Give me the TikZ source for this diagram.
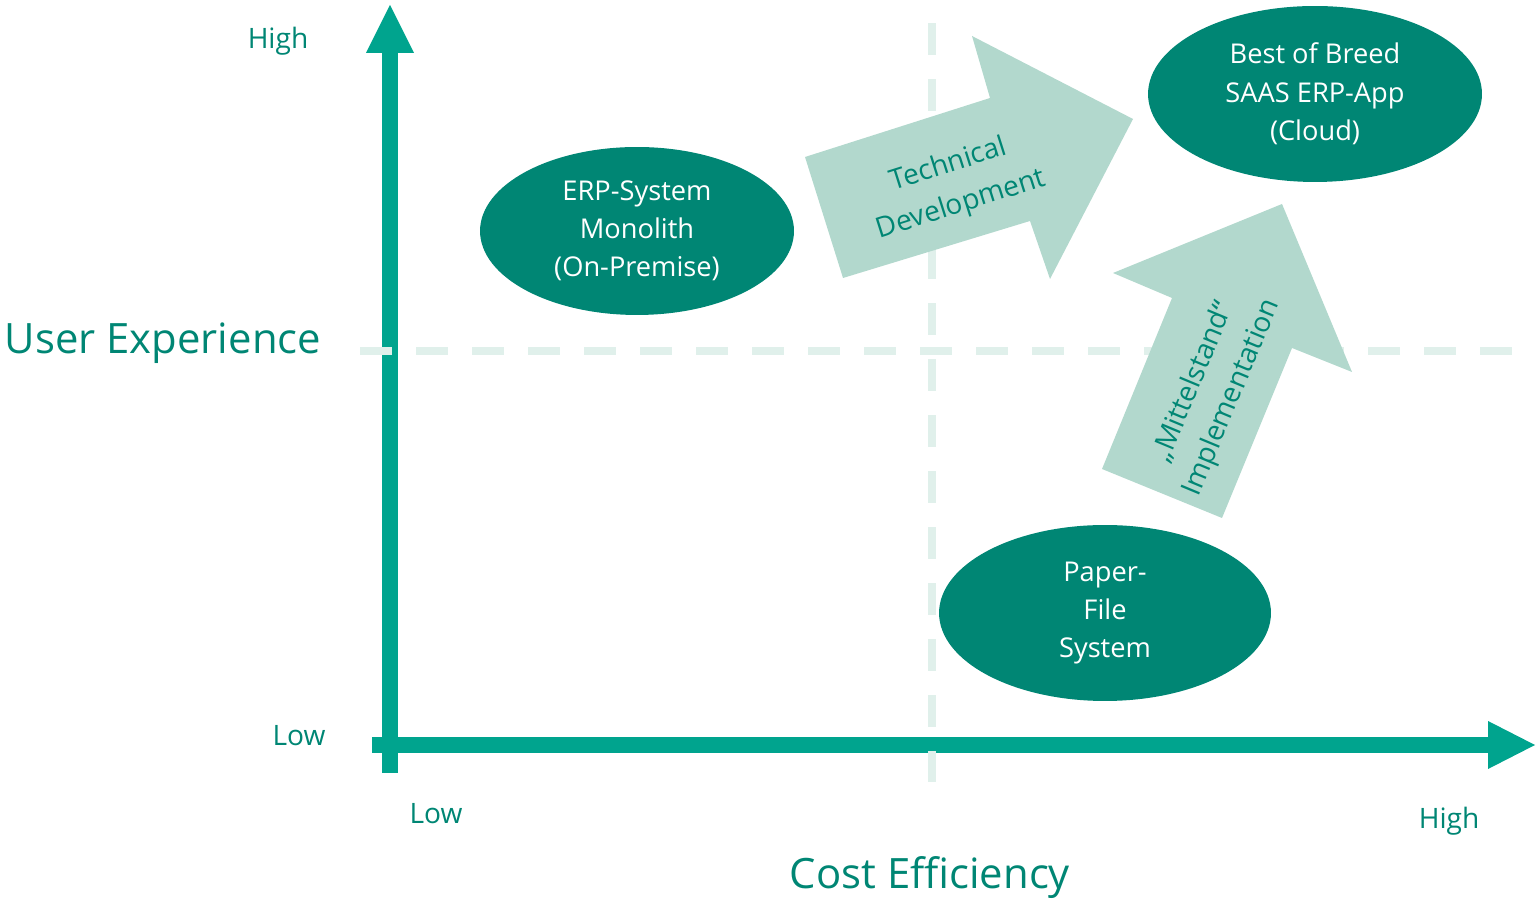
\documentclass[tikz,border=0pt]{standalone}
\usepackage{fontspec}
\setmainfont{Open Sans}
\usepackage{xcolor}
\usepackage{tikz}
\usetikzlibrary{arrows.meta}
\usetikzlibrary{shapes.geometric}
\definecolor{AxisTeal}{RGB}{0,164,142}
\definecolor{DarkTeal}{RGB}{0,134,116}
\definecolor{LightTeal}{RGB}{178,216,205}
\definecolor{PaleTeal}{RGB}{224,240,235}
\tikzset{
  MyEllipse/.style={
    ellipse, inner sep=0pt,
    fill=DarkTeal, text=white, align=center,
    font=\fontsize{15.5}{21.8}\selectfont,
  },
  MyLabel/.style={text=DarkTeal, font=\fontsize{16}{19}\selectfont},
  MyTitle/.style={text=DarkTeal, font=\fontsize{23.8}{28}\selectfont},
  MyAxis/.style={draw=AxisTeal, line width=0.32cm},
  MyGrid/.style={draw=PaleTeal, line width=0.15cm, dash pattern=on 0.64cm off 0.48cm},
  MyBlock/.style={fill=LightTeal},
  MyBlockText/.style={text=DarkTeal, align=center, font=\fontsize{16}{23.5}\selectfont},
}

\begin{document}
\begin{tikzpicture}[x=0.02cm,y=0.02cm]
\useasboundingbox (0,0) rectangle (1537,902);
\coordinate (YBot) at (390,129);
\coordinate (YTop) at (390,897);
\coordinate (XLeft) at (372,157);
\coordinate (XRight) at (1535,157);
\coordinate (VTop) at (932,879);
\coordinate (VBot) at (932,120);
\coordinate (HLeft) at (360,551);
\coordinate (HRight) at (1512,551);
\draw[MyAxis,-{Triangle[width=0.96cm,length=0.96cm,line width=0pt]}] (YBot) -- (YTop);
\draw[MyAxis,-{Triangle[width=0.96cm,length=0.94cm,line width=0pt]}] (XLeft) -- (XRight);
\draw[MyGrid] (VTop) -- (VBot);
\draw[MyGrid] (HLeft) -- (HRight);
% block arrows
\fill[MyBlock] (843,624) -- (805,745) -- (990,804) -- (972,866) -- (1133,783) -- (1050,623) -- (1030,681) -- cycle;
\fill[MyBlock] (1102,433) -- (1222,384) -- (1292,554) -- (1352,530) -- (1282,698) -- (1113,629) -- (1172,604) -- cycle;
\node[MyBlockText, rotate=17.6] (TECH) at (955,717) {Technical\\Development};
\node[MyBlockText, rotate=67.4] (MITTEL) at (1213,512) {„Mittelstand“\\Implementation};
% systems
\node[MyEllipse, minimum width=6.28cm, minimum height=3.36cm] (ERP) at (637,671) {ERP-System\\Monolith\\(On-Premise)};
\node[MyEllipse, minimum width=6.68cm, minimum height=3.52cm] (SAAS) at (1315,808) {Best of Breed\\SAAS ERP-App\\(Cloud)};
\node[MyEllipse, minimum width=6.64cm, minimum height=3.52cm] (PAPER) at (1105,289) {Paper-\\File\\System};
% labels
\node[MyLabel] (YHIGH) at (278,861) {High};
\node[MyLabel] (YLOW) at (299,166) {Low};
\node[MyLabel] (XLOW) at (436,88) {Low};
\node[MyLabel] (XHIGH) at (1449,81) {High};
\node[MyTitle] (UX) at (163,559) {User Experience};
\node[MyTitle] (CE) at (930,24) {Cost Efficiency};
\end{tikzpicture}
\end{document}
